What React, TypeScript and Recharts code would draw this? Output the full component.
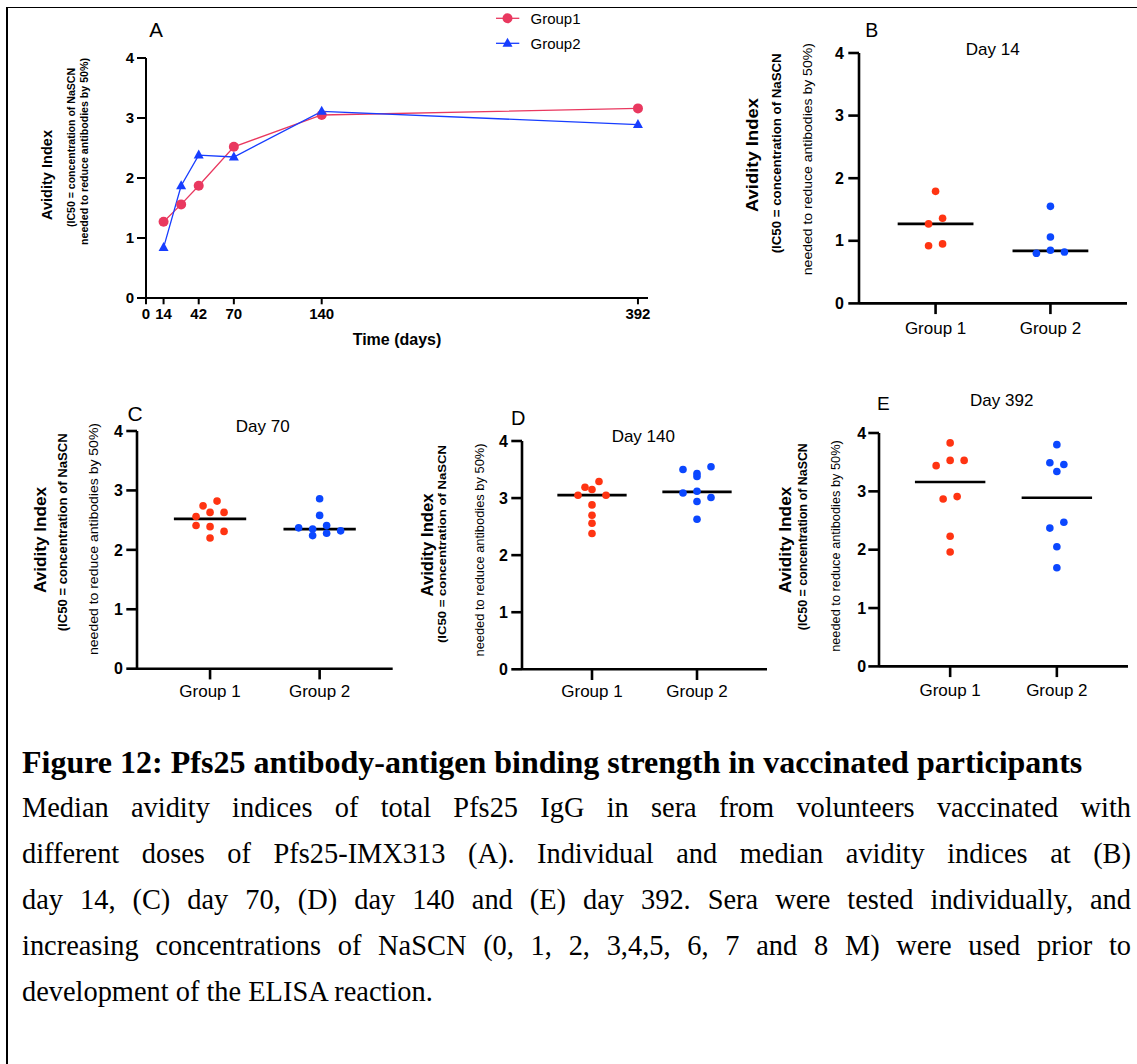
import React from "react";
import {
    LineChart,
    Line,
    ScatterChart,
    Scatter,
    XAxis,
    YAxis,
    ReferenceLine,
    Legend,
} from "recharts";

// Panel A: median avidity index over time
const DAYS = [14, 28, 42, 70, 140, 392];
const DAY_TICKS = [0, 14, 42, 70, 140, 392];
const GROUP1_MEDIAN = [1.27, 1.56, 1.87, 2.52, 3.05, 3.16];
const GROUP2_MEDIAN = [0.84, 1.87, 2.38, 2.35, 3.11, 2.89];
const Y_TICKS = [0, 1, 2, 3, 4];
const LEGEND_NAMES = ["Group1", "Group2"];

// Panels B-E: individual avidity indices
const GROUPS = ["Group 1", "Group 2"];
const DAY14_G1 = [1.79, 1.27, 1.36, 0.92, 0.95];
const DAY14_G2 = [1.55, 1.06, 0.8, 0.85, 0.82];
const DAY70_G1 = [2.74, 2.82, 2.56, 2.63, 2.63, 2.41, 2.39, 2.31, 2.2];
const DAY70_G2 = [2.86, 2.58, 2.37, 2.35, 2.41, 2.32, 2.24, 2.28];
const DAY140_G1 = [3.19, 3.29, 3.05, 3.15, 3.05, 2.88, 2.7, 2.56, 2.38];
const DAY140_G2 = [3.5, 3.43, 3.55, 3.38, 3.09, 3.12, 3.01, 2.94, 2.63];
const DAY392_G1 = [3.83, 3.44, 3.53, 3.53, 2.87, 2.91, 2.23, 1.96];
const DAY392_G2 = [3.8, 3.49, 3.46, 3.34, 2.37, 2.47, 2.05, 1.69];

const CAPTION_TITLE =
    "Figure 12: Pfs25 antibody-antigen binding strength in vaccinated participants";
const CAPTION_LINES = [
    "Median avidity indices of total Pfs25 IgG in sera from volunteers vaccinated with",
    "different doses of Pfs25-IMX313 (A). Individual and median avidity indices at (B)",
    "day 14, (C) day 70, (D) day 140 and (E) day 392. Sera were tested individually, and",
    "increasing concentrations of NaSCN (0, 1, 2, 3,4,5, 6, 7 and 8 M) were used prior to",
    "development of the ELISA reaction.",
];

const SANS = "'Liberation Sans', Arial, Helvetica, sans-serif";
const SERIF = "'Liberation Serif', 'Times New Roman', serif";

const PINK = "#e9385f";
const BLUE_A = "#173dff";
const RED = "#ff3412";
const BLUE = "#0b47ff";
const SLOT_PX = 14;

// spread close values side by side, centred on the group, like a dot plot
function swarm(values: number[], gap = 0.125) {
    const sorted = values.map((v, i) => ({ v, i })).sort((a, b) => b.v - a.v);
    const shift = values.map(() => 0);
    let row: { v: number; i: number }[] = [];
    const place = () => {
        const n = row.length;
        row.sort((a, b) => a.i - b.i).forEach((p, k) => {
            shift[p.i] = k - (n - 1) / 2;
        });
        row = [];
    };
    sorted.forEach((p) => {
        if (row.length && row[0].v - p.v > gap) place();
        row.push(p);
    });
    place();
    return shift;
}

const PANELS = [
    {
        letter: "B", day: 14, g1: DAY14_G1, g2: DAY14_G2,
        x0: 859, y0: 53.3, x1: 1127, y1: 303.7, xMargin: 7.8, yMargin: 4.5,
    },
    {
        letter: "C", day: 70, g1: DAY70_G1, g2: DAY70_G2,
        x0: 136.7, y0: 431, x1: 392.4, y1: 668.7, xMargin: 6, yMargin: 3.5,
    },
    {
        letter: "D", day: 140, g1: DAY140_G1, g2: DAY140_G2,
        x0: 521.7, y0: 441, x1: 766.7, y1: 669.3, xMargin: 5, yMargin: 3.3,
    },
    {
        letter: "E", day: 392, g1: DAY392_G1, g2: DAY392_G2,
        x0: 879, y0: 433.3, x1: 1128, y1: 666.7, xMargin: 6.5, yMargin: 2.2,
    },
];

// free text around the panels
const LETTERS = [
    { t: "A", x: 156, y: 29, s: 20.5 },
    { t: "B", x: 871.7, y: 30, s: 19.5 },
    { t: "C", x: 135, y: 413, s: 21 },
    { t: "D", x: 518.3, y: 418.3, s: 20 },
    { t: "E", x: 883.3, y: 403.3, s: 19 },
];
const TITLES = [
    { t: "Day 14", x: 992.7, y: 49 },
    { t: "Day 70", x: 262.7, y: 426 },
    { t: "Day 140", x: 643.3, y: 436.7 },
    { t: "Day 392", x: 1001.7, y: 400.7 },
];
const Y_TITLE_TEXT = [
    "Avidity Index",
    "(IC50 = concentration of NaSCN",
    "needed to reduce antibodies by 50%)",
];
const Y_TITLES = [
    [
        { x: 47, y: 175, len: 90, s: 14.5, w: 700 },
        { x: 70.5, y: 147.5, len: 159, s: 10.5, w: 700 },
        { x: 83.5, y: 151.5, len: 187, s: 10.5, w: 700 },
    ],
    [
        { x: 752.7, y: 155, len: 114, s: 17, w: 700 },
        { x: 776.7, y: 153.3, len: 200, s: 12.5, w: 700 },
        { x: 808, y: 159.2, len: 232, s: 12.5, w: 400 },
    ],
    [
        { x: 40, y: 540, len: 106, s: 16.5, w: 700 },
        { x: 62.7, y: 532.3, len: 198, s: 12.5, w: 700 },
        { x: 94.3, y: 539, len: 232, s: 12.5, w: 400 },
    ],
    [
        { x: 427.7, y: 545, len: 103, s: 16, w: 700 },
        { x: 441.7, y: 544, len: 198, s: 11.5, w: 700 },
        { x: 480.3, y: 550, len: 213, s: 12, w: 400 },
    ],
    [
        { x: 785, y: 540, len: 106.7, s: 16.5, w: 700 },
        { x: 803.3, y: 536.7, len: 187, s: 12, w: 700 },
        { x: 836, y: 546, len: 211.7, s: 12, w: 400 },
    ],
];

const axisStyle = (w: number) => ({ stroke: "#000", strokeWidth: w });

const CircleDot = (p: any) => {
    if (p.cx == null || p.cy == null) return null;
    return <circle cx={p.cx} cy={p.cy} r={5} fill={PINK} />;
};

const trianglePath = (cx: number, cy: number) =>
    `M${cx},${cy - 5.6} L${cx + 5},${cy + 3.4} L${cx - 5},${cy + 3.4} Z`;

const TriangleDot = (p: any) => {
    if (p.cx == null || p.cy == null) return null;
    return <path d={trianglePath(p.cx, p.cy)} fill={BLUE_A} />;
};

const LegendBox = ({ payload }: any) => (
    <svg width={100} height={50} style={{ overflow: "visible" }}>
        {(payload || []).map((item: any, i: number) => {
            const cy = 10.3 + i * 25;
            return (
                <g key={item.value}>
                    <line x1={0} x2={23.3} y1={cy} y2={cy} stroke={item.color} strokeWidth={1.3} />
                    {i === 0 ? (
                        <circle cx={11.5} cy={cy} r={5} fill={item.color} />
                    ) : (
                        <path d={trianglePath(11.5, cy)} fill={item.color} />
                    )}
                    <text
                        x={34.5}
                        y={cy}
                        dominantBaseline="central"
                        fontFamily={SANS}
                        fontSize={15}
                        fill="#000"
                    >
                        {item.value}
                    </text>
                </g>
            );
        })}
    </svg>
);

const PanelA = () => {
    const data = DAYS.map((day, i) => ({
        day,
        g1: GROUP1_MEDIAN[i],
        g2: GROUP2_MEDIAN[i],
    }));
    const x0 = 146;
    const y0 = 57.7;
    const w = 648 - x0;
    const h = 297.7 - y0;
    const tick = { fill: "#000", fontSize: 15, fontWeight: 700, fontFamily: SANS };
    return (
        <div style={{ position: "absolute", left: x0 - 60, top: y0 - 50 }}>
            <LineChart
                width={60 + w + 20}
                height={50 + h + 50}
                data={data}
                margin={{ top: 50, right: 20, bottom: 0, left: 0 }}
            >
                <XAxis
                    type="number"
                    dataKey="day"
                    domain={[0, 400]}
                    ticks={DAY_TICKS}
                    interval={0}
                    height={50}
                    tickSize={6.3}
                    tickMargin={4}
                    axisLine={axisStyle(2)}
                    tickLine={axisStyle(2)}
                    tick={tick}
                    label={{
                        value: "Time (days)",
                        position: "insideBottom",
                        offset: 3,
                        style: {
                            fill: "#000",
                            fontSize: 16,
                            fontWeight: 700,
                            fontFamily: SANS,
                        },
                    }}
                />
                <YAxis
                    type="number"
                    domain={[0, 4]}
                    ticks={Y_TICKS}
                    interval={0}
                    width={60}
                    tickSize={9}
                    tickMargin={3}
                    axisLine={axisStyle(2)}
                    tickLine={axisStyle(2)}
                    tick={tick}
                />
                <Legend
                    layout="vertical"
                    align="center"
                    verticalAlign="middle"
                    wrapperStyle={{ left: 495.5 - (x0 - 60), top: 0, width: 100 }}
                    content={<LegendBox />}
                />
                <Line
                    dataKey="g1"
                    name={LEGEND_NAMES[0]}
                    stroke={PINK}
                    strokeWidth={1.3}
                    dot={(p: any) => <CircleDot key={`c${p.index}`} {...p} />}
                    isAnimationActive={false}
                />
                <Line
                    dataKey="g2"
                    name={LEGEND_NAMES[1]}
                    stroke={BLUE_A}
                    strokeWidth={1.3}
                    dot={(p: any) => <TriangleDot key={`t${p.index}`} {...p} />}
                    isAnimationActive={false}
                />
            </LineChart>
        </div>
    );
};

const DotPanel = ({ cfg }: { cfg: (typeof PANELS)[number] }) => {
    const w = cfg.x1 - cfg.x0;
    const h = cfg.y1 - cfg.y0;
    const dayIndex = DAYS.indexOf(cfg.day);
    const medians = [GROUP1_MEDIAN[dayIndex], GROUP2_MEDIAN[dayIndex]];
    const series = [cfg.g1, cfg.g2].map((values, g) => {
        const shift = swarm(values);
        return values.map((v, i) => ({ x: g + 1, y: v, shift: shift[i] }));
    });
    const colors = [RED, BLUE];
    return (
        <div style={{ position: "absolute", left: cfg.x0 - 50, top: cfg.y0 - 10 }}>
            <ScatterChart
                width={50 + w + 8}
                height={10 + h + 45}
                margin={{ top: 10, right: 8, bottom: 0, left: 0 }}
            >
                <XAxis
                    type="number"
                    dataKey="x"
                    domain={[1 / 3, 8 / 3]}
                    ticks={[1, 2]}
                    interval={0}
                    height={45}
                    tickSize={10.7}
                    tickMargin={cfg.xMargin}
                    tickFormatter={(v: number) => GROUPS[v - 1]}
                    axisLine={axisStyle(2.6)}
                    tickLine={axisStyle(2.6)}
                    tick={{ fill: "#000", fontSize: 17, fontFamily: SANS }}
                />
                <YAxis
                    type="number"
                    dataKey="y"
                    domain={[0, 4]}
                    ticks={Y_TICKS}
                    interval={0}
                    width={50}
                    tickSize={10.7}
                    tickMargin={cfg.yMargin}
                    axisLine={axisStyle(2.6)}
                    tickLine={axisStyle(2.6)}
                    tick={{ fill: "#000", fontSize: 16, fontWeight: 700, fontFamily: SANS }}
                />
                {medians.map((m, g) => (
                    <ReferenceLine
                        key={`m${g}`}
                        segment={[
                            { x: g + 1 - 0.33, y: m },
                            { x: g + 1 + 0.33, y: m },
                        ]}
                        stroke="#000"
                        strokeWidth={2.7}
                    />
                ))}
                {series.map((data, g) => (
                    <Scatter
                        key={GROUPS[g]}
                        name={GROUPS[g]}
                        data={data}
                        fill={colors[g]}
                        isAnimationActive={false}
                        shape={(p: any) => (
                            <circle
                                cx={p.cx + p.payload.shift * SLOT_PX}
                                cy={p.cy}
                                r={3.8}
                                fill={colors[g]}
                            />
                        )}
                    />
                ))}
            </ScatterChart>
        </div>
    );
};

const Overlay = () => (
    <svg
        width={1137}
        height={1064}
        style={{ position: "absolute", left: 0, top: 0, pointerEvents: "none" }}
    >
        {LETTERS.map((l) => (
            <text
                key={l.t}
                x={l.x}
                y={l.y}
                textAnchor="middle"
                dominantBaseline="central"
                fontFamily={SANS}
                fontSize={l.s}
                fill="#000"
            >
                {l.t}
            </text>
        ))}
        {TITLES.map((t) => (
            <text
                key={t.t}
                x={t.x}
                y={t.y}
                textAnchor="middle"
                dominantBaseline="central"
                fontFamily={SANS}
                fontSize={17}
                fill="#000"
            >
                {t.t}
            </text>
        ))}
        {Y_TITLES.map((lines, p) =>
            lines.map((l, i) => (
                <text
                    key={`${p}-${i}`}
                    x={l.x}
                    y={l.y}
                    transform={`rotate(-90 ${l.x} ${l.y})`}
                    textAnchor="middle"
                    dominantBaseline="central"
                    textLength={l.len}
                    lengthAdjust="spacingAndGlyphs"
                    fontFamily={SANS}
                    fontSize={l.s}
                    fontWeight={l.w}
                    fill="#000"
                >
                    {Y_TITLE_TEXT[i]}
                </text>
            ))
        )}
    </svg>
);

const Caption = () => (
    <div style={{ position: "absolute", left: 22, top: 738.5, width: 1109, fontFamily: SERIF, color: "#000" }}>
        <div style={{ fontSize: 32, fontWeight: 700, lineHeight: "46px", whiteSpace: "nowrap" }}>
            {CAPTION_TITLE}
        </div>
        {CAPTION_LINES.map((line, i) => (
            <div
                key={i}
                style={{
                    fontSize: 28.4,
                    lineHeight: "46px",
                    whiteSpace: "nowrap",
                    textAlign: "justify",
                    textAlignLast: i === CAPTION_LINES.length - 1 ? "left" : "justify",
                }}
            >
                {line}
            </div>
        ))}
    </div>
);

export default function App() {
    return (
        <div
            style={{
                position: "relative",
                width: 1137,
                height: 1064,
                background: "#fff",
                overflow: "hidden",
            }}
        >
            <style>{"body{margin:0}"}</style>
            <div style={{ position: "absolute", left: 6, top: 7, width: 2, height: 1057, background: "#000" }} />
            <div style={{ position: "absolute", left: 7, top: 7, width: 1130, height: 1.3, background: "#000" }} />
            <PanelA />
            {PANELS.map((p) => (
                <DotPanel key={p.letter} cfg={p} />
            ))}
            <Overlay />
            <Caption />
        </div>
    );
}
